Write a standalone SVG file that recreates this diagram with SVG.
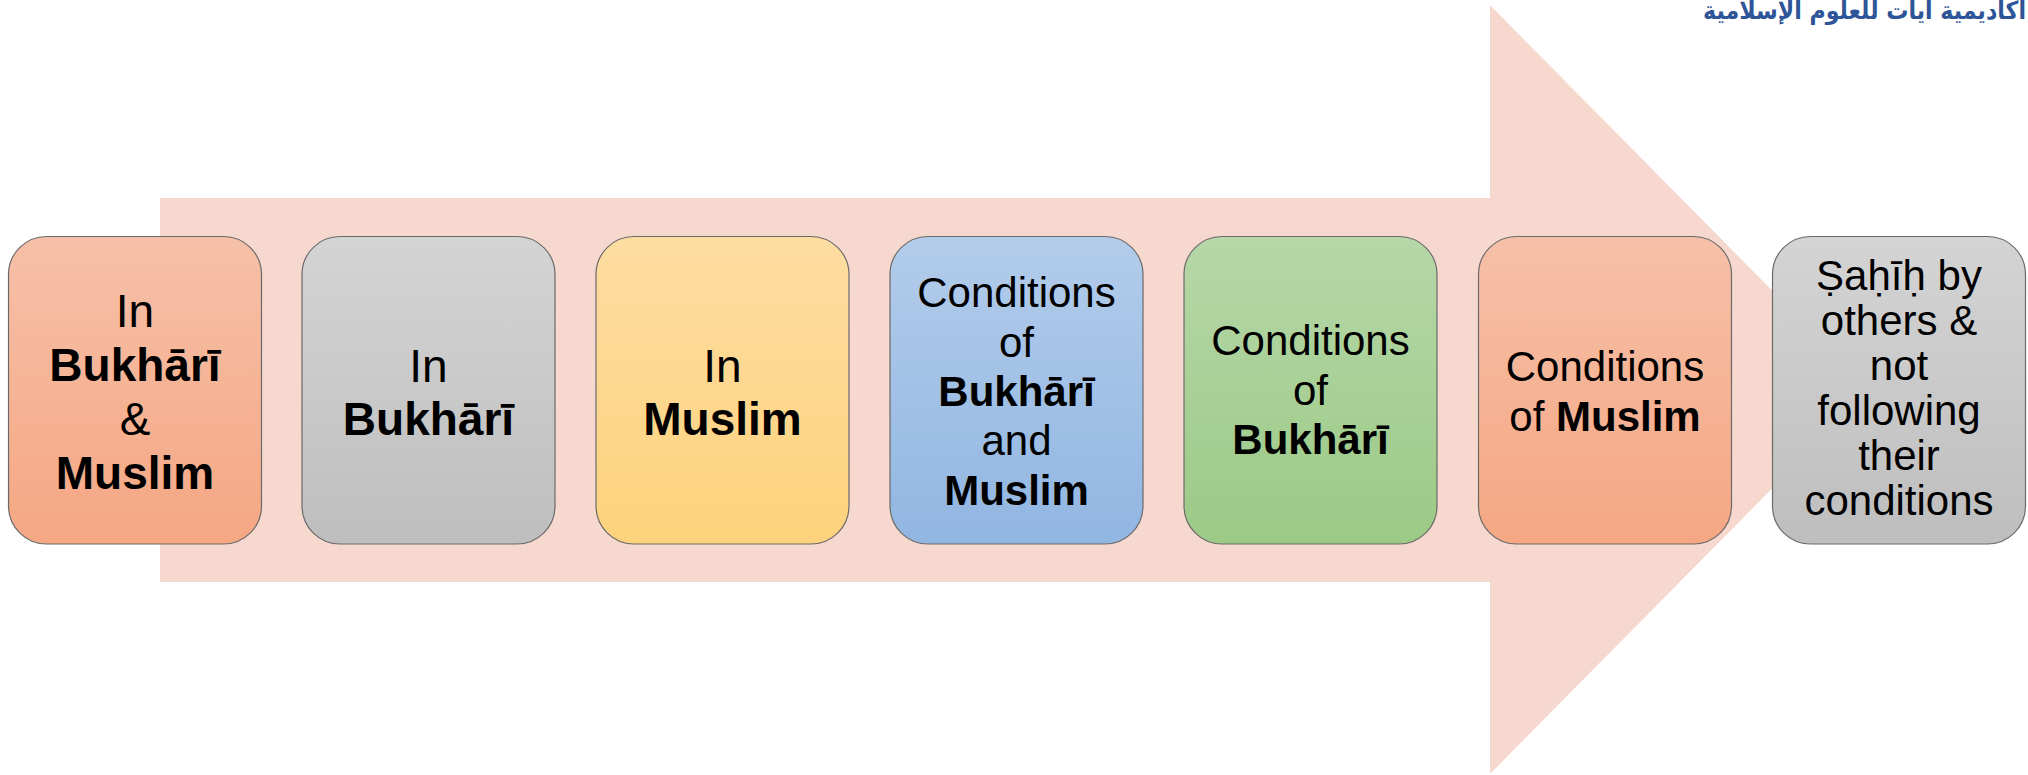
<svg xmlns="http://www.w3.org/2000/svg" width="2028" height="775" viewBox="0 0 2028 775">
<style>
.box{stroke:#6a6a6a;stroke-width:1.2}
.t{font-family:"Liberation Sans",Arial,"DejaVu Sans",sans-serif;fill:#000;text-anchor:middle}
.a{font-size:46px}
.b{font-size:42px}
.bd{font-weight:bold}
.ar{font-family:"DejaVu Sans",sans-serif;font-weight:bold;font-size:25px;fill:#2E5597;text-anchor:end}
</style>
<defs>
<linearGradient id="gOr" x1="0" y1="0" x2="0" y2="1"><stop offset="0" stop-color="#F6C0A8"/><stop offset="1" stop-color="#F5A783"/></linearGradient>
<linearGradient id="gGr" x1="0" y1="0" x2="0" y2="1"><stop offset="0" stop-color="#D4D4D4"/><stop offset="1" stop-color="#BEBEBE"/></linearGradient>
<linearGradient id="gYe" x1="0" y1="0" x2="0" y2="1"><stop offset="0" stop-color="#FEDDA2"/><stop offset="1" stop-color="#FED27C"/></linearGradient>
<linearGradient id="gBl" x1="0" y1="0" x2="0" y2="1"><stop offset="0" stop-color="#B3CCEA"/><stop offset="1" stop-color="#91B6E2"/></linearGradient>
<linearGradient id="gGn" x1="0" y1="0" x2="0" y2="1"><stop offset="0" stop-color="#B6D7A8"/><stop offset="1" stop-color="#9CCA86"/></linearGradient>
</defs>
<rect width="2028" height="775" fill="#FFFFFF"/>
<g id="arrow">
<polygon points="160,198 1490,198 1490,5 1870,389.5 1490,774 1490,582 160,582" fill="#F7D8CE"/>
</g>
<g id="connectors"></g>
<g id="n1">
<rect class="box" x="8.5" y="236.5" width="253" height="307.5" rx="38" fill="url(#gOr)"/>
<text class="t a" x="135" y="327">In</text>
<text class="t a bd" x="135" y="381">Bukhārī</text>
<text class="t a" x="135" y="435">&amp;</text>
<text class="t a bd" x="135" y="489">Muslim</text>
</g>
<g id="n2">
<rect class="box" x="302" y="236.5" width="253" height="307.5" rx="38" fill="url(#gGr)"/>
<text class="t a" x="428.5" y="382">In</text>
<text class="t a bd" x="428.5" y="435">Bukhārī</text>
</g>
<g id="n3">
<rect class="box" x="596" y="236.5" width="253" height="307.5" rx="38" fill="url(#gYe)"/>
<text class="t a" x="722.5" y="382">In</text>
<text class="t a bd" x="722.5" y="435">Muslim</text>
</g>
<g id="n4">
<rect class="box" x="890" y="236.5" width="253" height="307.5" rx="38" fill="url(#gBl)"/>
<text class="t b" x="1016.5" y="307">Conditions</text>
<text class="t b" x="1016.5" y="357">of</text>
<text class="t b bd" x="1016.5" y="406">Bukhārī</text>
<text class="t b" x="1016.5" y="455">and</text>
<text class="t b bd" x="1016.5" y="505">Muslim</text>
</g>
<g id="n5">
<rect class="box" x="1184" y="236.5" width="253" height="307.5" rx="38" fill="url(#gGn)"/>
<text class="t b" x="1310.5" y="355">Conditions</text>
<text class="t b" x="1310.5" y="405">of</text>
<text class="t b bd" x="1310.5" y="454">Bukhārī</text>
</g>
<g id="n6">
<rect class="box" x="1478.5" y="236.5" width="253" height="307.5" rx="38" fill="url(#gOr)"/>
<text class="t b" x="1605" y="381">Conditions</text>
<text class="t b" x="1605" y="431">of <tspan class="bd">Muslim</tspan></text>
</g>
<g id="n7">
<rect class="box" x="1772.5" y="236.5" width="253" height="307.5" rx="38" fill="url(#gGr)"/>
<text class="t b" x="1899" y="290">Ṣaḥīḥ by</text>
<text class="t b" x="1899" y="335">others &amp;</text>
<text class="t b" x="1899" y="380">not</text>
<text class="t b" x="1899" y="425">following</text>
<text class="t b" x="1899" y="470">their</text>
<text class="t b" x="1899" y="515">conditions</text>
</g>
<g id="header">
<text class="ar" x="2026" y="19" textLength="323" lengthAdjust="spacingAndGlyphs">أكاديمية آيات للعلوم الإسلامية</text>
</g>
</svg>
